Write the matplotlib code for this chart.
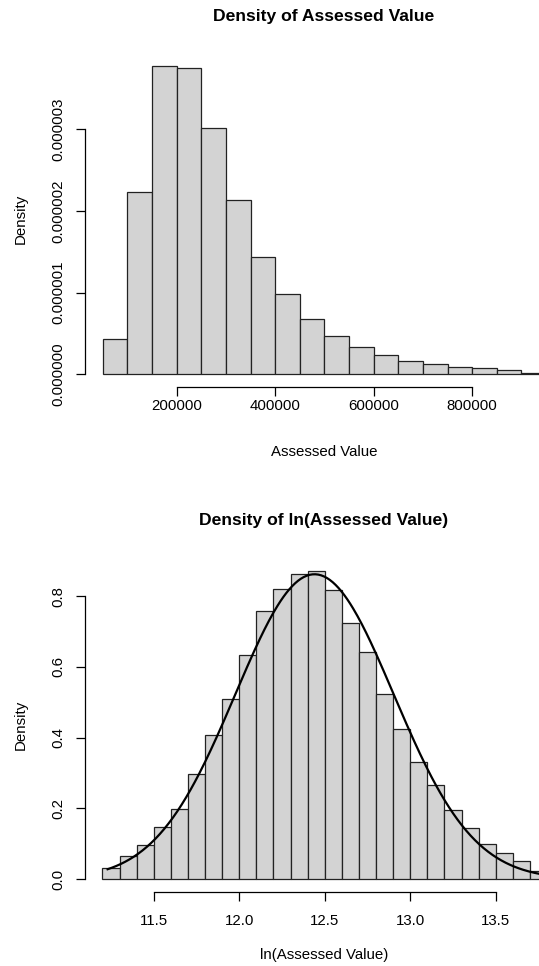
import numpy as np
import matplotlib
matplotlib.use("Agg")
import matplotlib.pyplot as plt

plt.rcParams["font.family"] = ["Liberation Sans", "DejaVu Sans"]

# top histogram: assessed value, bin width 50000
value_edges = np.arange(50000, 950001, 50000)
value_density = [0.43e-6, 2.234e-6, 3.78e-6, 3.754e-6, 3.02e-6, 2.13e-6, 1.44e-6,
                 0.984e-6, 0.67e-6, 0.47e-6, 0.327e-6, 0.229e-6, 0.16e-6, 0.119e-6,
                 0.09e-6, 0.07e-6, 0.057e-6, 0.02e-6]
value_xticks = [200000, 400000, 600000, 800000]
value_yticks = [0, 1e-6, 2e-6, 3e-6]

# bottom histogram: ln(assessed value), bin width 0.1
log_edges = np.round(np.arange(11.2, 13.8001, 0.1), 1)
log_density = [0.032, 0.065, 0.096, 0.147, 0.198, 0.297, 0.407, 0.51, 0.633, 0.757,
               0.819, 0.862, 0.872, 0.816, 0.725, 0.643, 0.522, 0.424, 0.331, 0.266,
               0.195, 0.144, 0.0998, 0.073, 0.051, 0.022]
log_xticks = [11.5, 12.0, 12.5, 13.0, 13.5]
log_yticks = [0.0, 0.2, 0.4, 0.6, 0.8]
fit_mean, fit_sd = 12.44, 0.463
fit_range = (11.23, 13.77)

FILL = "#D3D3D3"
EDGE = "#222222"
FS = 10.8

W, H = 539, 966
fig = plt.figure(figsize=(W / 100, H / 100), dpi=100)


def px_axes(left, top, right, bottom):
    return fig.add_axes([left / W, 1 - bottom / H, (right - left) / W, (bottom - top) / H])


def r_style(ax, xt, yt, xfmt, yfmt, xpad):
    for s in ["top", "right"]:
        ax.spines[s].set_visible(False)
    ax.spines["bottom"].set_bounds(xt[0], xt[-1])
    ax.spines["left"].set_bounds(yt[0], yt[-1])
    for s in ["bottom", "left"]:
        ax.spines[s].set_linewidth(0.9)
    ax.set_xticks(xt)
    ax.set_xticklabels([xfmt(v) for v in xt], fontsize=FS)
    ax.set_yticks(yt)
    ax.set_yticklabels([yfmt(v) for v in yt], fontsize=FS, rotation=90, va="center")
    ax.tick_params(length=6.3, width=0.9, direction="out")
    ax.tick_params(axis="x", pad=xpad)
    ax.tick_params(axis="y", pad=7.5)


def ylabel_at(y_px):
    fig.text(20.7 / W, 1 - y_px / H, "Density", rotation=90, ha="center", va="center",
             fontsize=FS)


# ---- top panel ----
ax = px_axes(84.7, 53.3, 539, 386.5)
ax.bar(value_edges[:-1], value_density, width=np.diff(value_edges), align="edge",
       color=FILL, edgecolor=EDGE, linewidth=0.9)
ax.set_xlim(13200, 935600)
ax.set_ylim(-0.151e-6, 3.93e-6)
r_style(ax, value_xticks, value_yticks, lambda v: f"{v:d}", lambda v: f"{v:.6f}", 3)
ylabel_at(219)
fig.text(324 / W, 1 - 17 / H, "Density of Assessed Value", ha="center", va="center",
         fontsize=12.6, fontweight="bold")
fig.text(324 / W, 1 - 452 / H, "Assessed Value", ha="center", va="center", fontsize=FS)

# ---- bottom panel ----
ax = px_axes(84.7, 558.2, 539, 891.6)
ax.bar(log_edges[:-1], log_density, width=np.diff(log_edges), align="edge",
       color=FILL, edgecolor=EDGE, linewidth=0.9)
xs = np.linspace(fit_range[0], fit_range[1], 300)
pdf = np.exp(-0.5 * ((xs - fit_mean) / fit_sd) ** 2) / (fit_sd * np.sqrt(2 * np.pi))
ax.plot(xs, pdf, color="black", lw=1.6)
ax.set_xlim(11.096, 13.753)
ax.set_ylim(-0.0349, 0.907)
r_style(ax, log_xticks, log_yticks, lambda v: f"{v:.1f}", lambda v: f"{v:.1f}", 10)
ylabel_at(724.7)
fig.text(324 / W, 1 - 520 / H, "Density of ln(Assessed Value)", ha="center", va="center",
         fontsize=12.6, fontweight="bold")
fig.text(324 / W, 1 - 955 / H, "ln(Assessed Value)", ha="center", va="center", fontsize=FS)

plt.savefig("out.png", dpi=100)
